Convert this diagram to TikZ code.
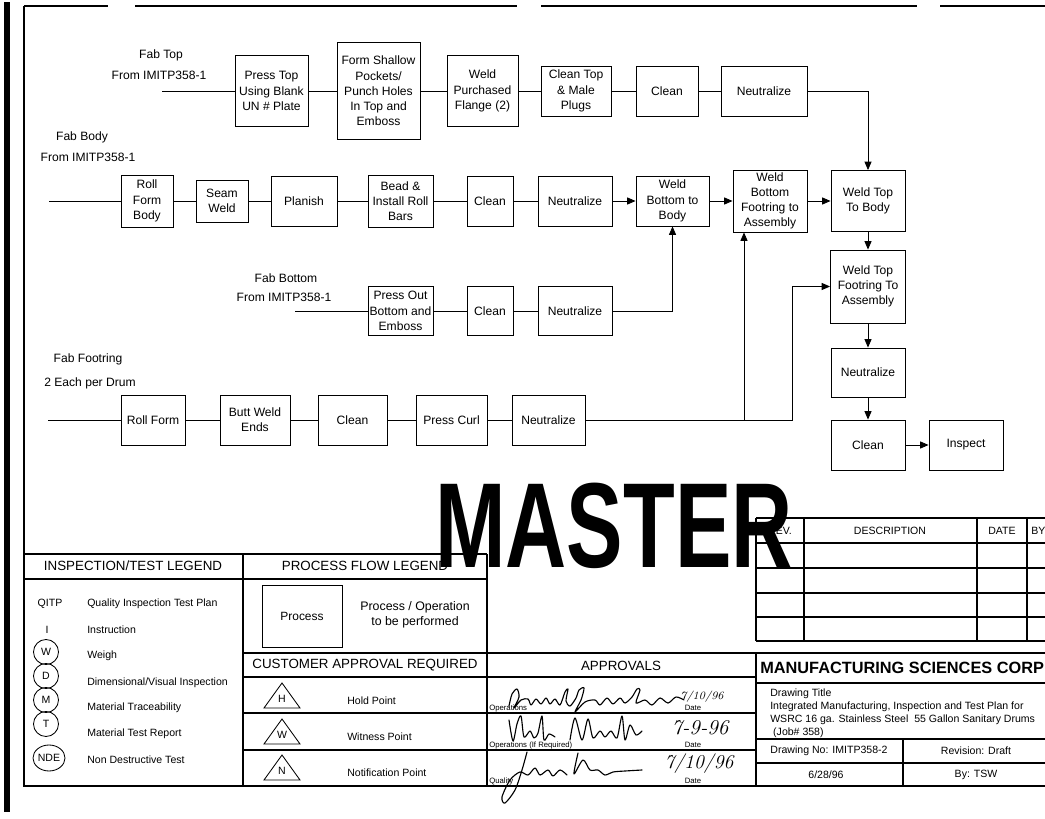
\documentclass[tikz,border=0pt]{standalone}
\usepackage{fontspec}
\setsansfont{Liberation Sans}
\usetikzlibrary{arrows.meta,shapes.geometric}

\newcommand\boxtxt{\sffamily\fontsize{8.6}{10.8}\selectfont}
\newcommand\legtxt{\sffamily\fontsize{7.5}{9}\selectfont}
\newcommand\headtxt{\sffamily\fontsize{9.5}{11}\selectfont}
\newcommand\smalltxt{\sffamily\fontsize{5.5}{6}\selectfont}
\newcommand\titletxt{\sffamily\fontsize{7.5}{9.2}\selectfont}
\newcommand\handtxt{\rmfamily\itshape}

\tikzset{
  proc/.style={draw, line width=0.6pt, align=center, inner sep=0pt, font=\boxtxt},
  sz/.style 2 args={minimum width=#1*0.025cm, minimum height=#2*0.025cm},
  lbl/.style={align=center, inner sep=0pt, font=\boxtxt},
  flow/.style={line width=0.6pt},
  tip/.style={flow, -{Triangle[length=6pt,width=5pt]}},
  rule/.style={line width=0.8pt},
  legitem/.style={anchor=west, inner sep=0pt, font=\legtxt},
  ringmark/.style={circle, draw, line width=0.6pt, inner sep=0pt, minimum size=25*0.025cm, font=\legtxt},
  sig/.style={line width=0.8pt, line cap=round, line join=round},
}

\begin{document}
\begin{tikzpicture}[x=0.025cm, y=-0.025cm]
\useasboundingbox (0,0) rectangle (1045,819);
\fill[white] (0,0) rectangle (1045,819);

% sheet frame
\fill (4,2) rectangle (10,812);
\draw[rule] (24,6) -- (108,6);
\draw[rule] (135,6) -- (517,6);
\draw[rule] (541,6) -- (917,6);
\draw[rule] (940,6) -- (1045,6);
\draw[rule] (24,6) -- (24,786) -- (1045,786);

% Fab Top
\node[lbl] (topName) at (161,55) {Fab Top};
\node[lbl] (topFrom) at (159,75) {From IMITP358-1};
\coordinate (topIn) at (162,91);
\node[proc, sz={73}{71}] (pressTop) at (271.5,91) {Press Top\\Using Blank\\UN \# Plate};
\node[proc, sz={83}{97}] (formPockets) at (378.5,91) {Form Shallow\\Pockets/\\Punch Holes\\In Top and\\Emboss};
\node[proc, sz={71}{71}] (weldFlange) at (482.5,91) {Weld\\Purchased\\Flange (2)};
\node[proc, sz={70}{50}] (cleanTop) at (576,91) {Clean Top\\\& Male\\Plugs};
\node[proc, sz={62}{50}] (clean1) at (667,91) {Clean};
\node[proc, sz={86}{50}] (neut1) at (764,91) {Neutralize};

% Fab Body
\node[lbl] (bodyName) at (82,137) {Fab Body};
\node[lbl] (bodyFrom) at (88,157) {From IMITP358-1};
\coordinate (bodyIn) at (49,201);
\node[proc, sz={52}{52}] (rollFormBody) at (147,201) {Roll\\Form\\Body};
\node[proc, sz={52}{42}] (seamWeld) at (222,201) {Seam\\Weld};
\node[proc, sz={66}{50}] (planish) at (304,201) {Planish};
\node[proc, sz={65}{52}] (bead) at (400.5,201) {Bead \&\\Install Roll\\Bars};
\node[proc, sz={46}{50}] (clean2) at (490,201) {Clean};
\node[proc, sz={74}{50}] (neut2) at (575,201) {Neutralize};
\node[proc, sz={73}{50}] (weldBottomBody) at (672.5,201) {Weld\\Bottom to\\Body};
\node[proc, sz={74}{62}] (weldFooting) at (770,201) {Weld\\Bottom\\Footring to\\Assembly};
\node[proc, sz={74}{61}] (weldTopBody) at (868,201) {Weld Top\\To Body};

% Fab Bottom
\node[lbl] (bottomName) at (286,278) {Fab Bottom};
\node[lbl] (bottomFrom) at (284,297) {From IMITP358-1};
\coordinate (bottomIn) at (295,311);
\node[proc, sz={65}{49}] (pressOut) at (400.5,311) {Press Out\\Bottom and\\Emboss};
\node[proc, sz={46}{49}] (clean3) at (490,311) {Clean};
\node[proc, sz={74}{49}] (neut3) at (575,311) {Neutralize};

% Fab Footring
\node[lbl] (footName) at (88,359) {Fab Footring};
\node[lbl] (footCount) at (90,383) {2 Each per Drum};
\coordinate (footIn) at (48,420);
\node[proc, sz={64}{50}] (rollForm) at (153,420) {Roll Form};
\node[proc, sz={70}{50}] (buttWeld) at (255,420) {Butt Weld\\Ends};
\node[proc, sz={69}{50}] (clean4) at (352.5,420) {Clean};
\node[proc, sz={71}{50}] (pressCurl) at (451.5,420) {Press Curl};
\node[proc, sz={73}{50}] (neut4) at (548.5,420) {Neutralize};
\coordinate (footJoin) at (744,420);
\coordinate (footBend) at (792,420);

% final assembly
\node[proc, sz={75}{73}] (weldTopFooting) at (868,286.5) {Weld Top\\Footring To\\Assembly};
\node[proc, sz={74}{49}] (neut5) at (868,372.5) {Neutralize};
\node[proc, sz={74}{50}] (clean5) at (868,445) {Clean};
\node[proc, sz={74}{50}] (inspect) at (966,445) {Inspect};

% connectors
\draw[flow] (topIn) -- (pressTop) -- (formPockets) -- (weldFlange) -- (cleanTop) -- (clean1) -- (neut1);
\draw[tip] (neut1) -| (weldTopBody);
\draw[flow] (bodyIn) -- (rollFormBody) -- (seamWeld) -- (planish) -- (bead) -- (clean2) -- (neut2);
\draw[tip] (neut2) -- (weldBottomBody);
\draw[tip] (weldBottomBody) -- (weldFooting);
\draw[tip] (weldFooting) -- (weldTopBody);
\draw[flow] (bottomIn) -- (pressOut) -- (clean3) -- (neut3);
\draw[tip] (neut3) -| (weldBottomBody);
\draw[flow] (footIn) -- (rollForm) -- (buttWeld) -- (clean4) -- (pressCurl) -- (neut4) -- (footJoin);
\draw[tip] (footJoin) -- (footJoin |- weldFooting.south);
\draw[tip] (footJoin) -- (footBend) |- (weldTopFooting);
\draw[tip] (weldTopBody) -- (weldTopFooting);
\draw[tip] (weldTopFooting) -- (neut5);
\draw[tip] (neut5) -- (clean5);
\draw[tip] (clean5) -- (inspect);

% revision table
\foreach \ry in {518,543,568,593,617,641}
  \draw[rule] (756,\ry) -- (1045,\ry);
\foreach \rx in {756,804,977,1027}
  \draw[rule] (\rx,518) -- (\rx,641);
\node[font=\legtxt] (revHead) at (780,531) {REV.};
\node[font=\legtxt] (descHead) at (890,531) {DESCRIPTION};
\node[font=\legtxt] (dateHead) at (1002,531) {DATE};
\node[legitem] (byHead) at (1031,531) {BY};

% legend frames
\draw[rule] (24,554) -- (487,554);
\draw[rule] (24,579) -- (487,579);
\draw[rule] (243,554) -- (243,786);
\draw[rule] (487,554) -- (487,786);
\draw[rule] (243,653) -- (1045,653);
\draw[rule] (243,677) -- (756,677);
\draw[rule] (243,713) -- (756,713);
\draw[rule] (243,750) -- (756,750);
\draw[rule] (756,653) -- (756,786);
\draw[rule] (756,683) -- (1045,683);
\draw[rule] (756,739) -- (1045,739);
\draw[rule] (756,763) -- (1045,763);
\draw[rule] (903,739) -- (903,786);

% inspection / test legend
\node[font=\headtxt] (inspHead) at (133,566) {INSPECTION/TEST LEGEND};
\node[font=\legtxt] (qitpKey) at (50,604) {QITP};
\node[font=\legtxt] (iKey) at (47,630) {I};
\node[ringmark] (wMark) at (46,652) {W};
\node[ringmark] (dMark) at (46,676) {D};
\node[ringmark] (mMark) at (46,700) {M};
\node[ringmark] (tMark) at (46,724) {T};
\node[ellipse, draw, line width=0.6pt, inner sep=0pt, minimum width=32*0.025cm, minimum height=26*0.025cm, font=\legtxt] (ndeMark) at (49,758) {NDE};
\node[legitem] (qitpTxt) at (87,604) {Quality Inspection Test Plan};
\node[legitem] (iTxt) at (87,630) {Instruction};
\node[legitem] (wTxt) at (87,656) {Weigh};
\node[legitem] (dTxt) at (87,683) {Dimensional/Visual Inspection};
\node[legitem] (mTxt) at (87,708) {Material Traceability};
\node[legitem] (tTxt) at (87,734) {Material Test Report};
\node[legitem] (ndeTxt) at (87,760) {Non Destructive Test};

% process flow legend
\node[font=\headtxt] (flowHead) at (365,566) {PROCESS FLOW LEGEND};
\node[draw, line width=0.6pt, sz={80}{62}, font=\sffamily\fontsize{8.5}{10}\selectfont] (procKey) at (302,616) {Process};
\node[align=center, font=\sffamily\fontsize{8.8}{10.8}\selectfont] (procTxt) at (415,615) {Process / Operation\\to be performed};
\node[font=\headtxt] (custHead) at (365,665) {CUSTOMER APPROVAL REQUIRED};
\foreach \ty/\tl/\tn in {708/H/Hold Point,744/W/Witness Point,780/N/Notification Point}{
  \draw[flow] (264,\ty) -- (282,\ty-25) -- (300,\ty) -- cycle;
  \node[font=\legtxt] (tri\tl) at (282,\ty-9) {\tl};
  \node[legitem] (point\tl) at (347,\ty-7) {\tn};
}

% approvals
\node[font=\headtxt] (apprHead) at (621,666) {APPROVALS};
\node[anchor=west, inner sep=0pt, font=\smalltxt] (opsTxt) at (489,708) {Operations};
\node[anchor=west, inner sep=0pt, font=\smalltxt] (opsReqTxt) at (489,745) {Operations (If Required)};
\node[anchor=west, inner sep=0pt, font=\smalltxt] (qualTxt) at (489,781) {Quality};
\node[font=\smalltxt] (date1) at (693,708) {Date};
\node[font=\smalltxt] (date2) at (693,745) {Date};
\node[font=\smalltxt] (date3) at (693,781) {Date};
% signatures
\draw[sig] plot[smooth, tension=0.5] coordinates {(509,706) (512,694) (517,689) (519,697) (514,708) (521,700) (528,699) (531,705) (536,699) (541,704) (546,698) (550,704) (555,699) (560,705) (565,692) (568,689) (566,701) (570,706) (576,698) (579,690) (584,688) (581,700) (575,712) (585,702) (595,700) (600,705) (607,698) (613,704) (620,698) (625,703) (632,697) (637,689) (640,690) (636,703) (645,700) (652,705) (660,698) (668,703) (676,697) (684,700)};
\draw[sig] plot[smooth, tension=0.5] coordinates {(509,720) (513,741) (517,724) (521,716) (524,737) (530,731) (534,738) (538,733) (542,716) (544,740) (549,734) (555,737)};
\draw[sig] plot[smooth, tension=0.5] coordinates {(570,740) (575,718) (582,740) (588,719) (593,738) (600,731) (605,737) (611,731) (617,738) (622,716) (625,740) (630,725) (636,735) (642,731)};
\draw[sig] plot[smooth, tension=0.5] coordinates {(527,752) (522,770) (515,790) (505,803) (502,797) (510,780) (520,772) (528,775) (535,768) (540,775) (548,770) (553,776) (560,770) (567,775)};
\draw[sig] plot[smooth, tension=0.5] coordinates {(578,753) (574,774) (583,760) (590,770) (598,770) (605,775) (613,772) (625,771) (642,770)};
\node[font=\handtxt\fontsize{8}{8}\selectfont] (sigDate1) at (702,697) {7/10/96};
\node[font=\handtxt\fontsize{15}{15}\selectfont] (sigDate2) at (700,728) {7-9-96};
\node[font=\handtxt\fontsize{14}{14}\selectfont] (sigDate3) at (699,764) {7/10/96};

% title block
\node[anchor=west, inner sep=0pt, font=\sffamily\bfseries\fontsize{11.6}{13}\selectfont] (corpName) at (760,668) {MANUFACTURING SCIENCES CORP};
\node[anchor=north west, inner sep=0pt, align=left, font=\titletxt] (dwgTitle) at (770,689) {Drawing Title\\Integrated Manufacturing, Inspection and Test Plan for\\WSRC 16 ga. Stainless Steel\ \ 55 Gallon Sanitary Drums\\\ (Job\# 358)};
\node[font=\titletxt] (dwgNo) at (829,751) {Drawing No: IMITP358-2};
\node[font=\titletxt] (dwgRev) at (976,751) {Revision: Draft};
\node[font=\titletxt] (dwgDate) at (826,775) {6/28/96};
\node[font=\titletxt] (dwgBy) at (976,775) {By: TSW};

% stamp
\node[anchor=base, inner sep=0pt, xscale=0.7, font=\sffamily\bfseries\fontsize{86}{86}\selectfont] (stamp) at (614,567) {MASTER};
\end{tikzpicture}
\end{document}
